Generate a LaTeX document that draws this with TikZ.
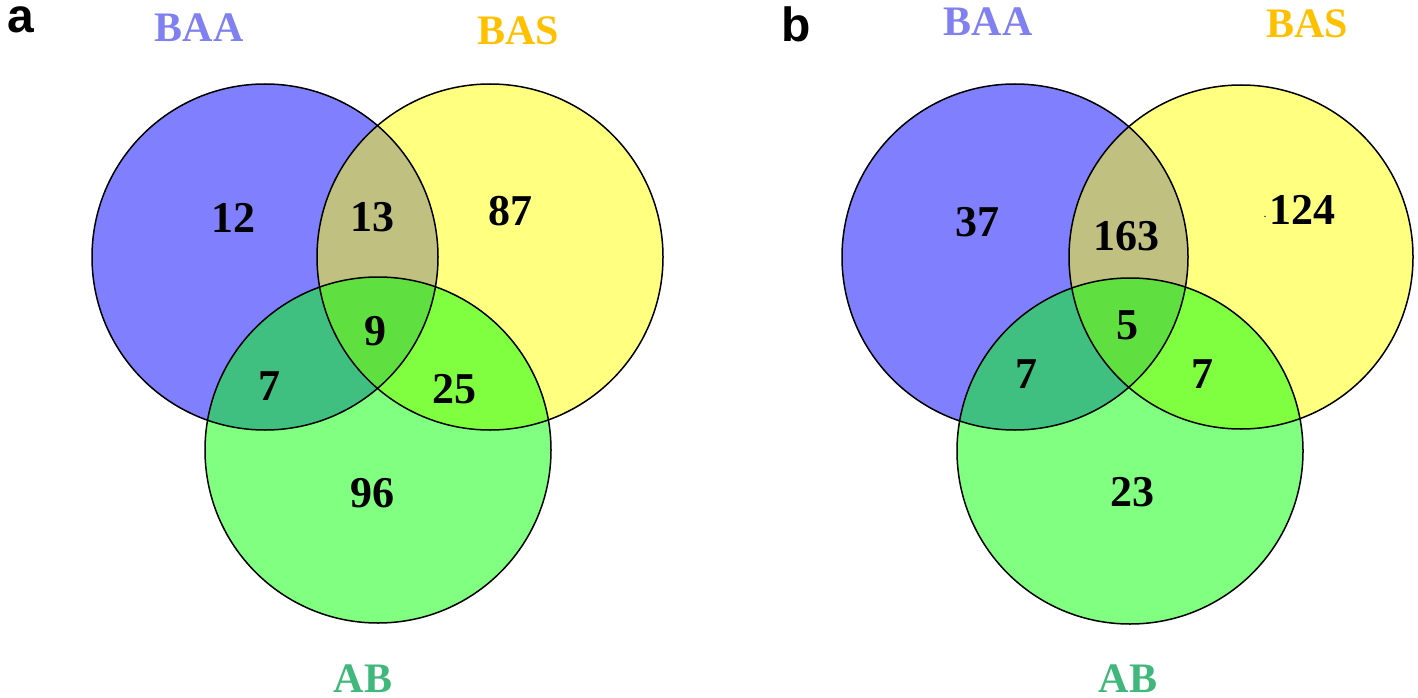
\documentclass[tikz,border=0pt]{standalone}
\usepackage{fontspec}
\newfontfamily\serifbold{Liberation Serif}
\newfontfamily\sansbold{Liberation Sans}
\definecolor{cBAA}{HTML}{8080FF}
\definecolor{cBAS}{HTML}{FFFF80}
\definecolor{cAB}{HTML}{80FF80}
\definecolor{cBAABAS}{HTML}{C0C080}
\definecolor{cBAAAB}{HTML}{40C080}
\definecolor{cBASAB}{HTML}{80FF40}
\definecolor{cAll}{HTML}{60E040}
\definecolor{tBAA}{HTML}{8080F0}
\definecolor{tBAS}{HTML}{FFC000}
\definecolor{tAB}{HTML}{40B87C}
\begin{document}
\begin{tikzpicture}[x=1pt,y=-1pt,
  num/.style={inner sep=0pt, font=\serifbold\bfseries\fontsize{44}{44}\selectfont},
  setlab/.style={inner sep=0pt, font=\serifbold\bfseries\fontsize{42}{42}\selectfont},
  panlab/.style={inner sep=0pt, anchor=base west, font=\sansbold\bfseries\fontsize{48}{48}\selectfont},
  outline/.style={draw=black, line width=1.5pt}]
\useasboundingbox (0,0) rectangle (1418,698);

% ---------- panel a ----------
\fill[cBAA] (265,257) circle (173);
\fill[cBAS] (490,257) circle (173);
\fill[cAB] (378,450) circle (173);
\begin{scope}\clip (265,257) circle (173); \fill[cBAABAS] (490,257) circle (173); \end{scope}
\begin{scope}\clip (265,257) circle (173); \fill[cBAAAB] (378,450) circle (173); \end{scope}
\begin{scope}\clip (490,257) circle (173); \fill[cBASAB] (378,450) circle (173); \end{scope}
\begin{scope}\clip (265,257) circle (173); \clip (490,257) circle (173); \fill[cAll] (378,450) circle (173); \end{scope}
\draw[outline] (265,257) circle (173);
\draw[outline] (490,257) circle (173);
\draw[outline] (378,450) circle (173);

\node[panlab] (pa) at (7,33) {a};
\node[setlab, text=tBAA] (aBAA) at (199,28) {BAA};
\node[setlab, text=tBAS] (aBAS) at (518,31) {BAS};
\node[setlab, text=tAB] (aAB) at (363,679) {AB};
\node[num] (a1) at (233,218) {12};
\node[num] (a2) at (372,217) {13};
\node[num] (a3) at (510,211) {87};
\node[num] (a4) at (375,331) {9};
\node[num] (a5) at (269,386) {7};
\node[num] (a6) at (454,389) {25};
\node[num] (a7) at (372,493) {96};

% ---------- panel b ----------
\fill[cBAA] (1015,257) circle (173);
\fill[cBAS] (1241,257) circle (172);
\fill[cAB] (1130,451) circle (173);
\begin{scope}\clip (1015,257) circle (173); \fill[cBAABAS] (1241,257) circle (172); \end{scope}
\begin{scope}\clip (1015,257) circle (173); \fill[cBAAAB] (1130,451) circle (173); \end{scope}
\begin{scope}\clip (1241,257) circle (172); \fill[cBASAB] (1130,451) circle (173); \end{scope}
\begin{scope}\clip (1015,257) circle (173); \clip (1241,257) circle (172); \fill[cAll] (1130,451) circle (173); \end{scope}
\draw[outline] (1015,257) circle (173);
\draw[outline] (1241,257) circle (172);
\draw[outline] (1130,451) circle (173);

\node[panlab] (pb) at (781,42) {b};
\node[setlab, text=tBAA] (bBAA) at (988,22) {BAA};
\node[setlab, text=tBAS] (bBAS) at (1307,24) {BAS};
\node[setlab, text=tAB] (bAB) at (1128,679) {AB};
\node[num] (b1) at (977,222) {37};
\node[num] (b2) at (1126,236) {163};
\node[num] (b3) at (1302,210) {124};
\node[inner sep=0pt, font=\serifbold\fontsize{12}{12}\selectfont] (b3dot) at (1265,217) {.};
\node[num] (b4) at (1127,325) {5};
\node[num] (b5) at (1026,374) {7};
\node[num] (b6) at (1202,374) {7};
\node[num] (b7) at (1132,492) {23};
\end{tikzpicture}
\end{document}
